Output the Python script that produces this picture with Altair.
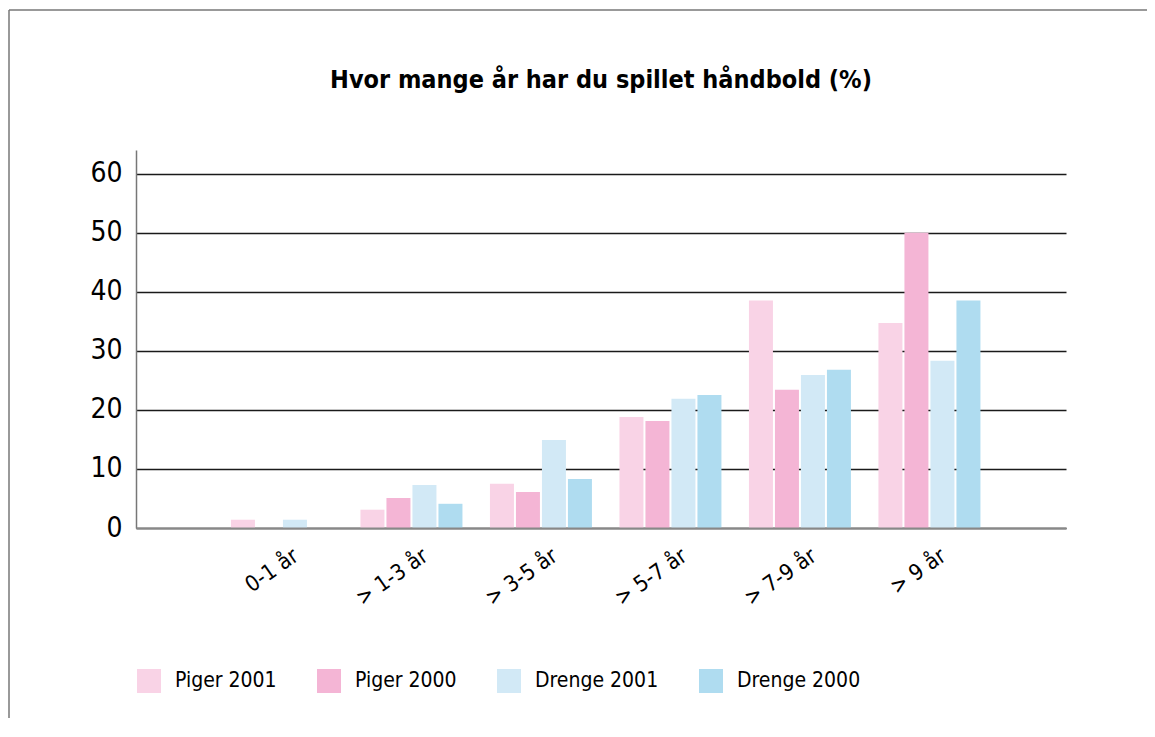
import altair as alt
import pandas as pd

categories = ["0-1 år", "> 1-3 år", "> 3-5 år", "> 5-7 år", "> 7-9 år", "> 9 år"]
series = ["Piger 2001", "Piger 2000", "Drenge 2001", "Drenge 2000"]
piger_2001 = [1.4, 3.1, 7.5, 18.8, 38.5, 34.7]
piger_2000 = [0.0, 5.1, 6.1, 18.1, 23.4, 50.0]
drenge_2001 = [1.4, 7.3, 14.9, 21.9, 25.9, 28.3]
drenge_2000 = [0.0, 4.1, 8.3, 22.5, 26.8, 38.5]
colors = ["#F9D3E6", "#F4B5D5", "#D2E9F6", "#AFDCF0"]
y_ticks = [0, 10, 20, 30, 40, 50, 60]
title_text = "Hvor mange år har du spillet håndbold (%)"

rows = []
for s, vals in zip(series, [piger_2001, piger_2000, drenge_2001, drenge_2000]):
    for c, v in zip(categories, vals):
        rows.append({"Kategori": c, "Serie": s, "Procent": v})
df = pd.DataFrame(rows)

FONT = "Liberation Sans Narrow, Arial Narrow, DejaVu Sans Condensed, sans-serif"

bars = alt.Chart(df).mark_bar().encode(
    x=alt.X(
        "Kategori:N", sort=categories, title=None,
        scale=alt.Scale(paddingInner=0.2124, paddingOuter=0.697, align=0.526),
        axis=alt.Axis(
            ticks=False, domainColor="#888888", domainWidth=2,
            labelAngle=-35, labelAlign="right", labelBaseline="middle",
            labelFont=FONT, labelFontSize=22, labelColor="black",
            labelPadding=25, labelOffset=14, zindex=1, grid=False,
        ),
    ),
    xOffset=alt.XOffset("Serie:N", sort=series,
                        scale=alt.Scale(paddingInner=0.077, paddingOuter=0)),
    y=alt.Y(
        "Procent:Q", title=None,
        scale=alt.Scale(domain=[0, 64], nice=False),
        axis=alt.Axis(
            values=y_ticks, ticks=False, domainColor="#777777", domainWidth=1.5,
            labelFont=FONT, labelFontSize=28, labelColor="black", labelPadding=14,
            grid=True, gridColor="#1a1a1a", gridWidth=1.3,
        ),
    ),
    color=alt.Color(
        "Serie:N", sort=series,
        scale=alt.Scale(domain=series, range=colors),
        legend=alt.Legend(
            title=None, orient="none", legendX=1, legendY=519,
            direction="horizontal", columns=4, symbolType="square",
            symbolSize=576, symbolStrokeWidth=0, symbolOpacity=1,
            labelFont=FONT, labelFontSize=21, labelColor="black",
            labelOffset=14, columnPadding=40, padding=0,
        ),
    ),
)

frame_data = alt.Data(values=[{"k": 0}])
frame_top = alt.Chart(frame_data).mark_rule(color="#777777", strokeWidth=1.5).encode(
    x=alt.value(-127), x2=alt.value(1030), y=alt.value(-140)
)
frame_left = alt.Chart(frame_data).mark_rule(color="#777777", strokeWidth=1.5).encode(
    x=alt.value(-127), y=alt.value(-140), y2=alt.value(590)
)

chart = alt.layer(frame_top, frame_left, bars).properties(
    width=930, height=378,
    title=alt.TitleParams(
        title_text, font=FONT, fontSize=25, fontWeight="bold", color="black",
        anchor="middle", frame="group", offset=-84,
    ),
    autosize=alt.AutoSizeParams(type="none"),
    padding={"left": 128, "top": 142, "right": 81, "bottom": 190},
).configure(
    background="white",
    view=alt.ViewConfig(stroke="transparent"),
)

chart.save("out.html", embed_options={"renderer": "svg", "actions": False})
